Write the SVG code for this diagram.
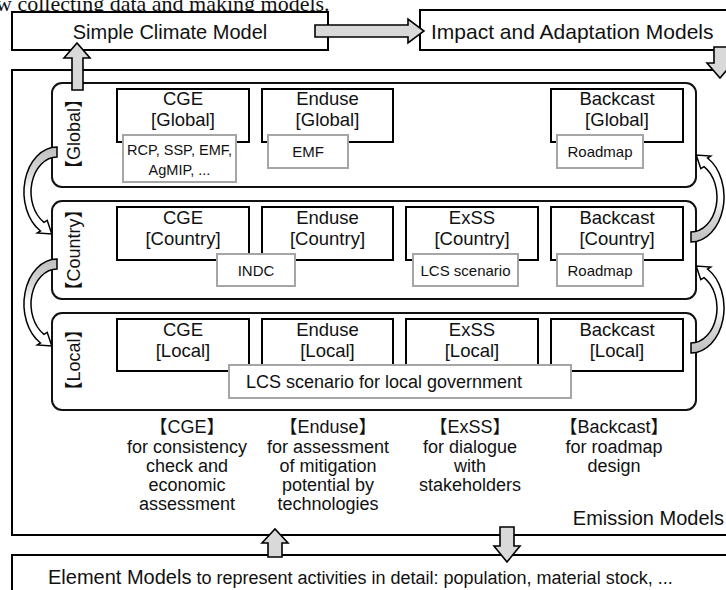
<svg xmlns="http://www.w3.org/2000/svg" width="726" height="590" viewBox="0 0 726 590">
<style>
text{font-family:"Liberation Sans","Noto Sans CJK JP",sans-serif;fill:#111}
.box{fill:#fff;stroke:#000;stroke-width:2}
.row{fill:#fff;stroke:#111;stroke-width:2}
.tag{fill:#fff;stroke:#a6a6a6;stroke-width:2}
.blk{fill:#d9d9d9;stroke:#000;stroke-width:1.6;stroke-linejoin:miter}
.crv{fill:url(#cg);stroke:#000;stroke-width:1.5}
.big{font-size:20px}
.t18{font-size:18.5px;text-anchor:middle}
.t15{font-size:15px;text-anchor:middle}
.d{font-size:18px;text-anchor:middle}
.rl{font-size:18px;text-anchor:middle}
</style>
<defs>
<linearGradient id="cg" x1="0" y1="0" x2="0" y2="1">
<stop offset="0" stop-color="#bfbfbf"/>
<stop offset="0.3" stop-color="#d9d9d9"/>
<stop offset="0.5" stop-color="#ffffff"/>
<stop offset="1" stop-color="#ffffff"/>
</linearGradient>
<path id="carrow" d="M57,147 A33,45 0 0 0 40.5,231 L37.4,232.9 L51.8,233.9 L47.2,220.3 L44,222.3 A26,35 0 0 1 57,157 Z"/>
</defs>

<text x="-4" y="11" style="font-family:'Liberation Serif',serif;font-size:22px">w collecting data and making models.</text>

<g id="simple-climate-model">
<rect class="box" x="12" y="12" width="316" height="38"/>
<text class="big" x="170" y="38.5" text-anchor="middle">Simple Climate Model</text>
</g>
<g id="impact-adaptation-models">
<rect class="box" x="420" y="10" width="320" height="40"/>
<text x="431" y="39" style="font-size:21px">Impact and Adaptation Models</text>
</g>
<g id="emission-models">
<rect class="box" x="12" y="70" width="730" height="465"/>
<text class="big" x="724" y="525" text-anchor="end">Emission Models</text>
</g>
<g id="element-models">
<rect class="box" x="12" y="555" width="730" height="50"/>
<text x="48" y="584" style="font-size:20px">Element Models<tspan style="font-size:18px"> to represent activities in detail: population, material stock, ...</tspan></text>
</g>

<g id="row-global">
<rect class="row" x="52" y="83" width="644" height="104" rx="10"/>
<text class="rl" transform="translate(74,134) rotate(-90)" x="0" y="6">【Global】</text>
</g>
<g id="row-country">
<rect class="row" x="52" y="201" width="644" height="98" rx="10"/>
<text class="rl" transform="translate(74,250) rotate(-90)" x="0" y="6">【Country】</text>
</g>
<g id="row-local">
<rect class="row" x="52" y="313" width="644" height="97" rx="10"/>
<text class="rl" transform="translate(74,360) rotate(-90)" x="0" y="6">【Local】</text>
</g>

<g id="cge-global"><rect class="box" x="117" y="89" width="132" height="53"/><text class="t18" x="183" y="105">CGE</text><text class="t18" x="183" y="126">[Global]</text></g>
<g id="enduse-global"><rect class="box" x="262" y="89" width="131" height="53"/><text class="t18" x="327.5" y="105">Enduse</text><text class="t18" x="327.5" y="126">[Global]</text></g>
<g id="backcast-global"><rect class="box" x="551" y="89" width="132" height="53"/><text class="t18" x="617" y="105">Backcast</text><text class="t18" x="617" y="126">[Global]</text></g>

<g id="cge-country"><rect class="box" x="117" y="207" width="132" height="53"/><text class="t18" x="183" y="224">CGE</text><text class="t18" x="183" y="245">[Country]</text></g>
<g id="enduse-country"><rect class="box" x="262" y="207" width="131" height="53"/><text class="t18" x="327.5" y="224">Enduse</text><text class="t18" x="327.5" y="245">[Country]</text></g>
<g id="exss-country"><rect class="box" x="406" y="207" width="132" height="53"/><text class="t18" x="472" y="224">ExSS</text><text class="t18" x="472" y="245">[Country]</text></g>
<g id="backcast-country"><rect class="box" x="551" y="207" width="132" height="53"/><text class="t18" x="617" y="224">Backcast</text><text class="t18" x="617" y="245">[Country]</text></g>

<g id="cge-local"><rect class="box" x="117" y="319" width="132" height="52"/><text class="t18" x="183" y="336">CGE</text><text class="t18" x="183" y="357">[Local]</text></g>
<g id="enduse-local"><rect class="box" x="262" y="319" width="131" height="52"/><text class="t18" x="327.5" y="336">Enduse</text><text class="t18" x="327.5" y="357">[Local]</text></g>
<g id="exss-local"><rect class="box" x="406" y="319" width="132" height="52"/><text class="t18" x="472" y="336">ExSS</text><text class="t18" x="472" y="357">[Local]</text></g>
<g id="backcast-local"><rect class="box" x="551" y="319" width="132" height="52"/><text class="t18" x="617" y="336">Backcast</text><text class="t18" x="617" y="357">[Local]</text></g>

<g id="tag-rcp"><rect class="tag" x="123" y="135" width="113" height="47"/><text class="t15" x="179.5" y="155" style="font-size:14.5px">RCP, SSP, EMF,</text><text class="t15" x="179.5" y="175" style="font-size:14.5px">AgMIP, ...</text></g>
<g id="tag-emf"><rect class="tag" x="268" y="135" width="80" height="33"/><text class="t15" x="308" y="157">EMF</text></g>
<g id="tag-roadmap-global"><rect class="tag" x="557" y="135" width="86" height="33"/><text class="t15" x="600" y="157">Roadmap</text></g>
<g id="tag-indc"><rect class="tag" x="217" y="254" width="78" height="32"/><text class="t15" x="256" y="276">INDC</text></g>
<g id="tag-lcs-country"><rect class="tag" x="413" y="254" width="105" height="32"/><text class="t15" x="465.5" y="276">LCS scenario</text></g>
<g id="tag-roadmap-country"><rect class="tag" x="557" y="254" width="86" height="32"/><text class="t15" x="600" y="276">Roadmap</text></g>
<g id="tag-lcs-local"><rect class="tag" x="229" y="365" width="342" height="33"/><text class="t15" x="384" y="388" style="font-size:18px">LCS scenario for local government</text></g>

<g id="desc-cge">
<text class="d" x="187" y="433">【CGE】</text>
<text class="d" x="187" y="453">for consistency</text>
<text class="d" x="187" y="472">check and</text>
<text class="d" x="187" y="491">economic</text>
<text class="d" x="187" y="510">assessment</text>
</g>
<g id="desc-enduse">
<text class="d" x="328" y="433">【Enduse】</text>
<text class="d" x="328" y="453">for assessment</text>
<text class="d" x="328" y="472">of mitigation</text>
<text class="d" x="328" y="491">potential by</text>
<text class="d" x="328" y="510">technologies</text>
</g>
<g id="desc-exss">
<text class="d" x="470" y="433">【ExSS】</text>
<text class="d" x="470" y="453">for dialogue</text>
<text class="d" x="470" y="472">with</text>
<text class="d" x="470" y="491">stakeholders</text>
</g>
<g id="desc-backcast">
<text class="d" x="614" y="433">【Backcast】</text>
<text class="d" x="614" y="453">for roadmap</text>
<text class="d" x="614" y="472">design</text>
</g>

<g id="connectors">
<path class="blk" d="M315,25 L408,25 L408,19 L424,31 L408,43 L408,37 L315,37 Z"/>
<path class="blk" d="M714,47 L728,47 L728,63 L733,63 L720,78 L707,63 L714,63 Z"/>
<path class="blk" d="M72,90 L72,58 L64,58 L77,43 L90,58 L83,58 L83,90 Z"/>
<path class="blk" d="M268,557 L268,543 L262,543 L275,529 L288,543 L282,543 L282,557 Z"/>
<path class="blk" d="M500,527 L514,527 L514,546 L520,546 L507,562 L494,546 L500,546 Z"/>
<use href="#carrow" class="crv"/>
<use href="#carrow" class="crv" transform="translate(0,112)"/>
<use href="#carrow" class="crv" transform="rotate(180,374,194.5)"/>
<use href="#carrow" class="crv" transform="translate(0,111) rotate(180,374,194.5)"/>
</g>
</svg>
